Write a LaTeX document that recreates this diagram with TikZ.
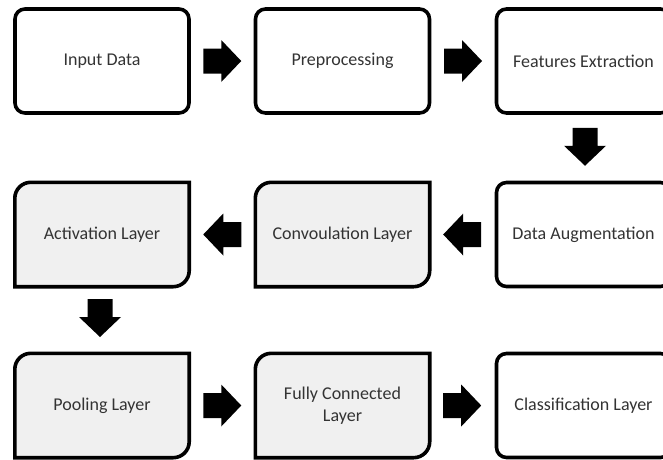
\documentclass[tikz,border=0pt]{standalone}
\usepackage{fontspec}
\setmainfont{Carlito}
\usetikzlibrary{calc}
\definecolor{panelgrey}{HTML}{F0F0F0}
\definecolor{labeltext}{HTML}{333333}
\tikzset{
  stage/.style={minimum width=174pt, minimum height=104pt, inner sep=2pt,
    text=labeltext, font=\fontsize{18}{22}\selectfont, align=center},
  plainbox/.style={stage, draw=black, line width=3.6pt, rounded corners=10pt, fill=white},
  greybox/.style={stage},
  greyedge/.style={draw=black, line width=3.6pt, fill=panelgrey},
  pics/blockarrow/.style={code={
    \fill[black] (-19,12.5) -- (-1,12.5) -- (-1,21) -- (19,0) -- (-1,-21)
      -- (-1,-12.5) -- (-19,-12.5) -- cycle;}}
}
\newcommand{\greyoutline}[1]{%
  \path[greyedge] (#1.north east) -- ($(#1.south east)+(0,16)$) arc (0:-90:16)
    -- (#1.south west) -- ($(#1.north west)+(0,-16)$) arc (180:90:16) -- cycle;}
\begin{document}
\begin{tikzpicture}[x=1pt,y=1pt]
\useasboundingbox (0,0) rectangle (663,-459);

% first row
\node[plainbox] (input) at (102,-61) {Input Data};
\node[plainbox] (prep)  at (342.5,-61) {Preprocessing};
\node[plainbox] (feat)  at (583.5,-61) {Features Extraction};

% second row
\node[plainbox] (aug) at (583.5,-234.5) {Data Augmentation};
\node[greybox] (conv) at (342.5,-234.5) {};
\node[greybox] (act)  at (102,-234.5) {};

% third row
\node[greybox] (pool) at (102,-405.5) {};
\node[greybox] (fc)   at (342.5,-405.5) {};
\node[plainbox] (cls) at (583.5,-405.5) {Classification Layer};

% grey layers: rounded top-left and bottom-right corners only
\greyoutline{conv}
\greyoutline{act}
\greyoutline{pool}
\greyoutline{fc}
\node[greybox] at (conv) {Convoulation Layer};
\node[greybox] at (act)  {Activation Layer};
\node[greybox] at (pool) {Pooling Layer};
\node[greybox] at (fc)   {Fully Connected\\Layer};

% block arrows between stages
\pic at ($(input.east)!0.5!(prep.west)$) {blockarrow};
\pic at ($(prep.east)!0.5!(feat.west)+(0,0)$) {blockarrow};
\pic[rotate=-90] at ($(feat.south)!0.5!(aug.north)+(1.5,1)$) {blockarrow};
\pic[rotate=180] at ($(aug.west)!0.5!(conv.east)$) {blockarrow};
\pic[rotate=180] at ($(conv.west)!0.5!(act.east)$) {blockarrow};
\pic[rotate=-90] at ($(act.south)!0.5!(pool.north)+(-2,2)$) {blockarrow};
\pic at ($(pool.east)!0.5!(fc.west)$) {blockarrow};
\pic at ($(fc.east)!0.5!(cls.west)$) {blockarrow};
\end{tikzpicture}
\end{document}
